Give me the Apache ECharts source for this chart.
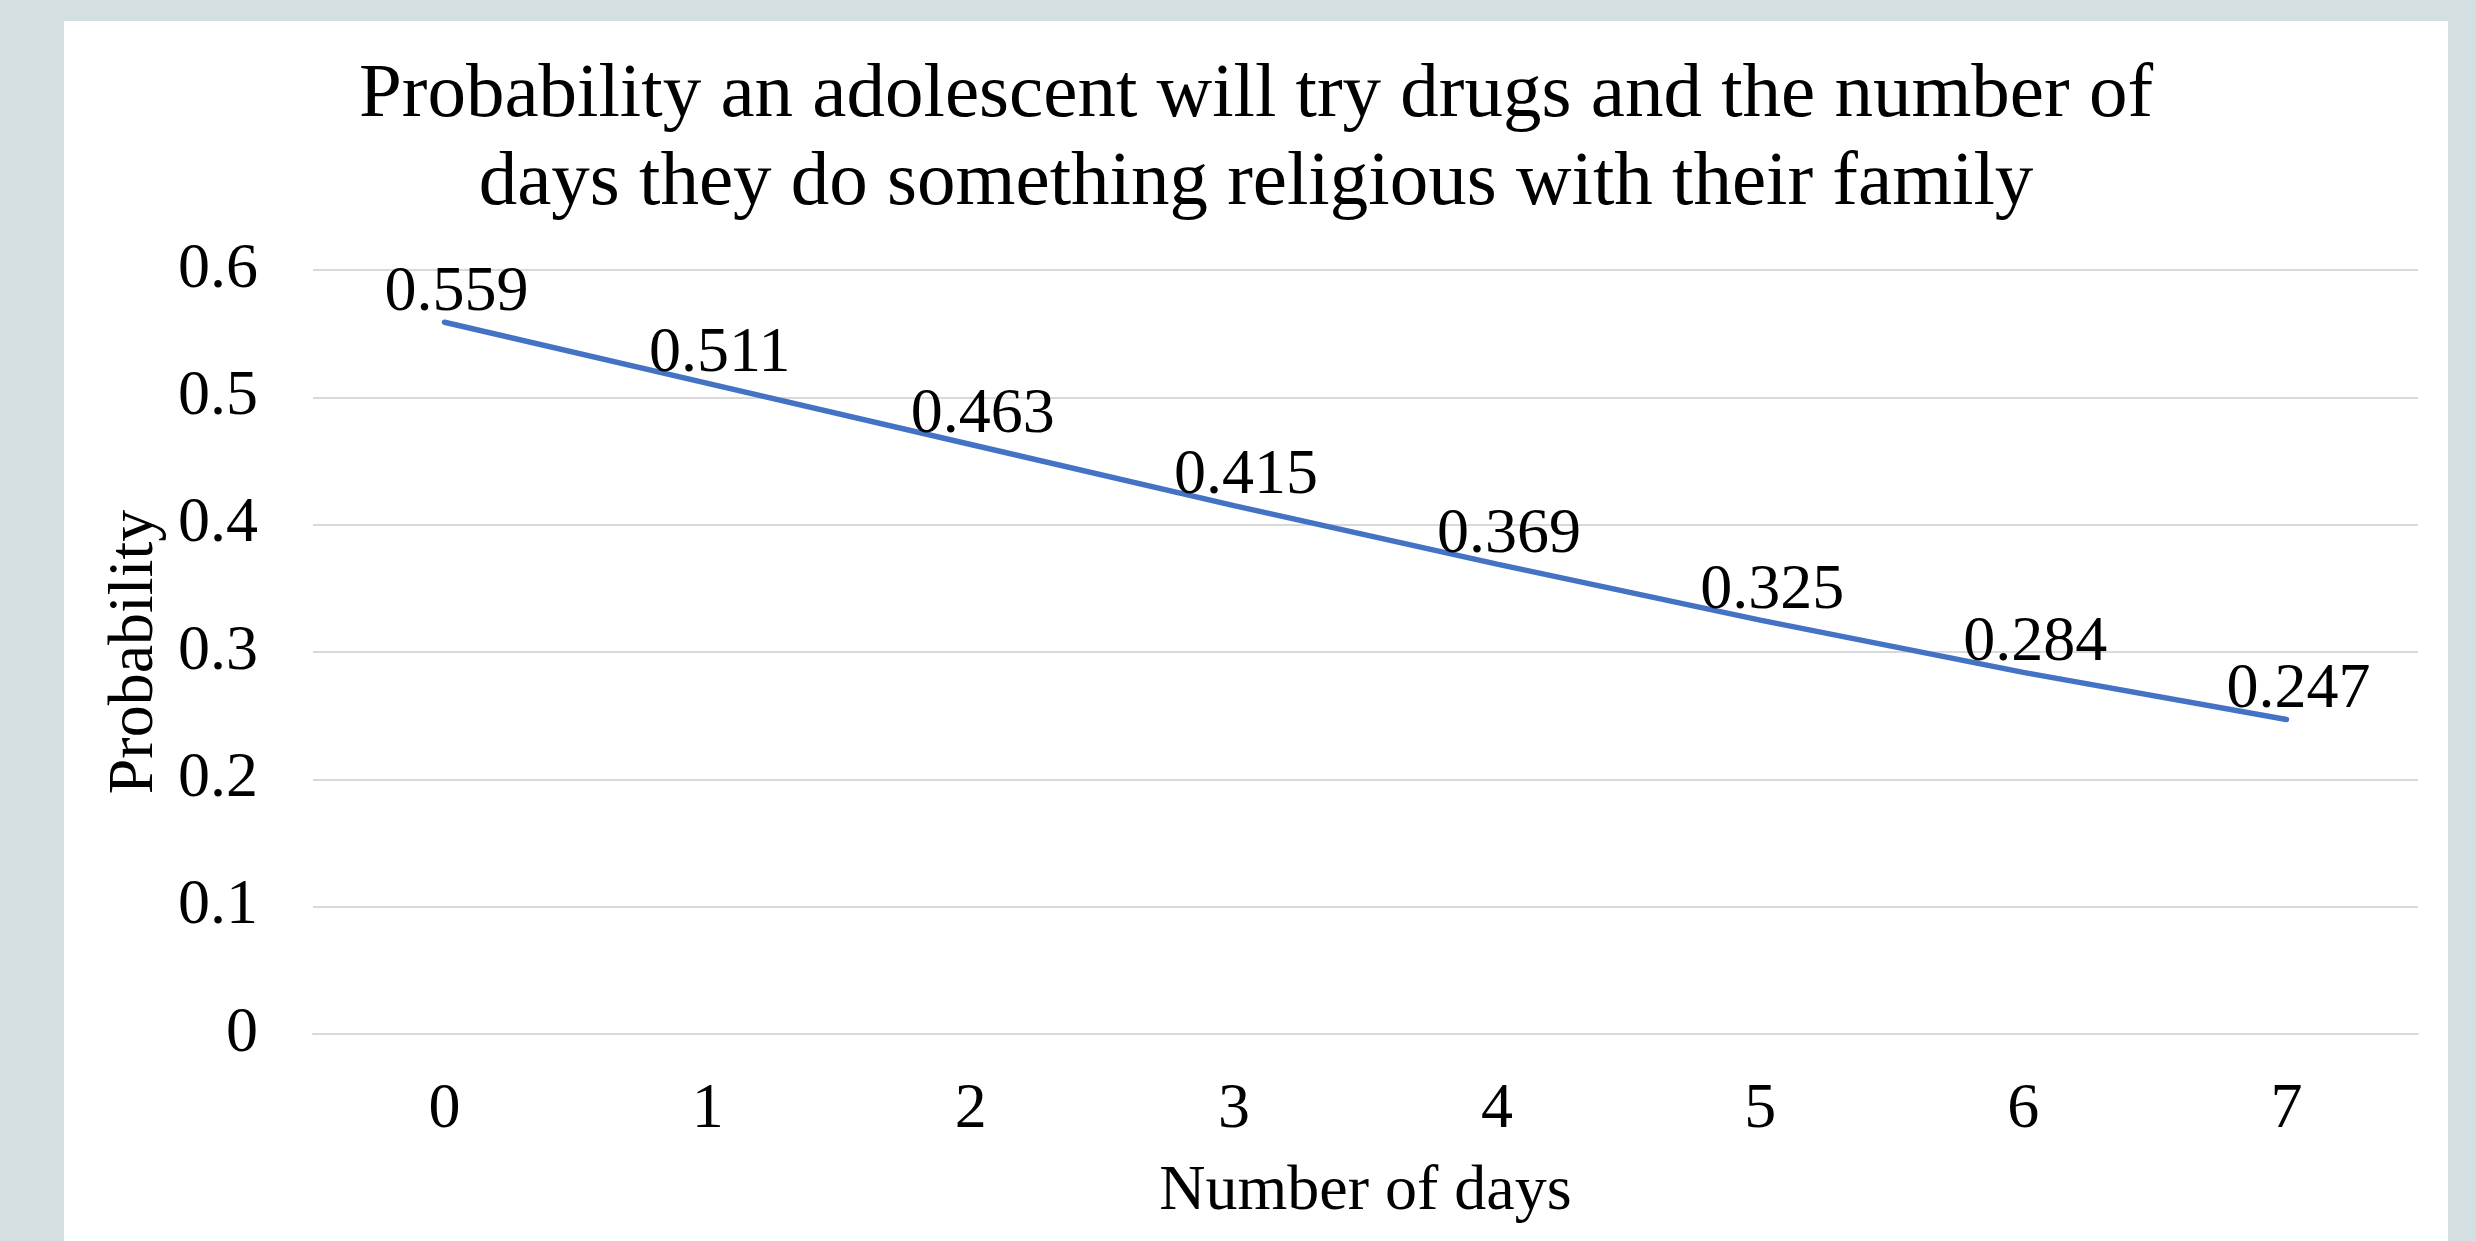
<!DOCTYPE html>
<html>
<head>
<meta charset="utf-8">
<script src="https://cdn.jsdelivr.net/npm/echarts@6/dist/echarts.min.js"></script>
<style>
  html, body { margin: 0; padding: 0; width: 2476px; height: 1241px; background: #d4dfe1; overflow: hidden; }
  #chart { position: absolute; left: 64px; top: 21px; width: 2384px; height: 1220px; background: #ffffff; }
</style>
</head>
<body>
<div id="chart"></div>
<script>
const titleText = 'Probability an adolescent will try drugs and the number of\ndays they do something religious with their family';
const categories = ['0', '1', '2', '3', '4', '5', '6', '7'];
const probabilities = [0.559, 0.511, 0.463, 0.415, 0.369, 0.325, 0.284, 0.247];
const xAxisTitle = 'Number of days';
const yAxisTitle = 'Probability';

const FONT = '"Liberation Serif", "Times New Roman", serif';
const chart = echarts.init(document.getElementById('chart'), null, { renderer: 'canvas' });
chart.setOption({
  backgroundColor: '#ffffff',
  animation: false,
  title: {
    text: titleText,
    left: 'center',
    top: 26,
    textStyle: { fontFamily: FONT, fontSize: 77, fontWeight: 'normal', color: '#000000', lineHeight: 88 }
  },
  grid: { left: 249, right: 30, top: 249, bottom: 207, containLabel: false },
  xAxis: {
    type: 'category',
    data: categories,
    boundaryGap: true,
    name: xAxisTitle,
    nameLocation: 'middle',
    nameGap: 126,
    nameTextStyle: { fontFamily: FONT, fontSize: 64, color: '#000000' },
    axisLine: { show: true, lineStyle: { color: '#d9d9d9', width: 2 } },
    axisTick: { show: false },
    axisLabel: { fontFamily: FONT, fontSize: 64, color: '#000000', margin: 44 },
    splitLine: { show: false }
  },
  yAxis: {
    type: 'value',
    min: 0,
    max: 0.6,
    interval: 0.1,
    name: yAxisTitle,
    nameLocation: 'middle',
    nameGap: 142,
    nameRotate: 90,
    nameTextStyle: { fontFamily: FONT, fontSize: 64, color: '#000000' },
    axisLine: { show: false },
    axisTick: { show: false },
    axisLabel: { fontFamily: FONT, fontSize: 64, color: '#000000', margin: 55 },
    splitLine: { show: true, lineStyle: { color: '#d9d9d9', width: 2 } }
  },
  series: [{
    type: 'line',
    data: probabilities,
    showSymbol: true,
    symbol: 'circle',
    symbolSize: 0,
    itemStyle: { color: '#4472c4' },
    lineStyle: { color: '#4472c4', width: 5.5, cap: 'round' },
    label: {
      show: true,
      position: 'top',
      distance: 0,
      offset: [12, 3],
      fontFamily: FONT,
      fontSize: 64,
      color: '#000000',
      formatter: p => p.value.toFixed(3)
    }
  }]
});
</script>
</body>
</html>
